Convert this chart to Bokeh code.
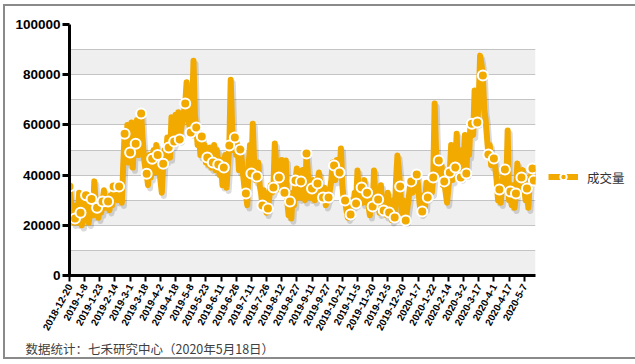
from bokeh.plotting import figure
from bokeh.models import (Range1d, FixedTicker, SingleIntervalTicker, NumeralTickFormatter,
                          Legend, LegendItem, Title, ColumnDataSource)
from bokeh.transform import dodge
from bokeh.embed import file_html
from bokeh.resources import INLINE

# daily trading volume (trading days from 2018-12-20 to 2020-5-18)
volume = [
    35500, 30000, 24000, 21000, 22700, 28000, 21000, 33000, 25000, 20000, 31000, 22000,
    32000, 28000, 21000, 26000, 30500, 24000, 37500, 29000, 27000, 23000, 30000, 25000,
    29500, 34000, 27000, 31000, 29500, 26000, 32000, 28000, 35500, 31000, 36000, 30000,
    35500, 33000, 29000, 44000, 56500, 48000, 60000, 45000, 49000, 61000, 43000, 58000,
    52500, 62000, 48000, 60000, 64500, 55000, 47000, 43000, 40500, 36000, 48000, 39000,
    46500, 50000, 41000, 52000, 48000, 44000, 38000, 33000, 44500, 50000, 46000, 55000,
    51000, 47000, 63000, 52000, 53400, 64000, 55000, 65000, 54200, 58000, 62000, 65000,
    68500, 77000, 62000, 60000, 57000, 66000, 85600, 64000, 59000, 52000, 57000, 48000,
    55400, 50000, 52000, 45000, 47000, 44000, 51000, 43000, 45000, 52000, 42000, 50000,
    44200, 40000, 46000, 36000, 43000, 48000, 35000, 44000, 51800, 78000, 60000, 50000,
    55000, 48000, 52000, 42000, 50200, 46000, 40000, 35000, 32700, 28000, 44000, 52000,
    40600, 60500, 45000, 38000, 39400, 45000, 36000, 33000, 27900, 34000, 30000, 25000,
    26700, 31000, 36000, 33000, 35100, 52600, 44000, 38000, 39000, 34000, 46000, 37000,
    33000, 45800, 30000, 24000, 29500, 22700, 33000, 28000, 37800, 42600, 35000, 31000,
    37500, 42000, 35000, 30000, 48600, 41000, 37000, 31000, 34700, 38000, 30000, 36000,
    36700, 41000, 37000, 33000, 31100, 35000, 28000, 30000, 31100, 34000, 38000, 45000,
    43800, 38000, 46000, 40000, 41000, 50600, 36000, 30000, 29900, 26000, 23000, 27000,
    24300, 30000, 28000, 33000, 28700, 41800, 32000, 30000, 35100, 29000, 38000, 30000,
    33000, 28000, 24000, 32000, 27500, 41800, 31000, 34000, 30300, 25000, 36000, 28000,
    25900, 30000, 24000, 33000, 25100, 28000, 22000, 30000, 23100, 38000, 47800, 42000,
    35500, 25000, 30000, 22000, 21900, 26000, 30000, 35000, 37500, 33000, 37000, 34000,
    40200, 36000, 29000, 25000, 25500, 32000, 27000, 37000, 31100, 34000, 36000, 33000,
    39000, 68500, 50000, 42000, 45800, 41000, 44000, 36000, 37500, 33000, 29000, 35000,
    41000, 52000, 38000, 45000, 43000, 56500, 40000, 46000, 39000, 50000, 44000, 56000,
    40600, 55000, 48000, 60000, 60500, 56000, 73700, 66000, 61000, 70000, 87600, 84000,
    79700, 66000, 62000, 55000, 48200, 52000, 44000, 47000, 46600, 43000, 38000, 30000,
    34300, 29000, 37000, 40000, 42200, 36000, 57800, 30000, 33500, 28000, 36000, 27000,
    32700, 44600, 38000, 35000, 39000, 42000, 35000, 30000, 34700, 27000, 37000, 40000,
    42600, 37800,
]

tick_labels = [
    "2018-12-20", "2019-1-8", "2019-1-23", "2019-2-14", "2019-3-1", "2019-3-18",
    "2019-4-2", "2019-4-18", "2019-5-8", "2019-5-23", "2019-6-11", "2019-6-26",
    "2019-7-11", "2019-7-26", "2019-8-12", "2019-8-27", "2019-9-11", "2019-9-27",
    "2019-10-21", "2019-11-5", "2019-11-20", "2019-12-5", "2019-12-20", "2020-1-7",
    "2020-1-22", "2020-2-14", "2020-3-2", "2020-3-17", "2020-4-1", "2020-4-17", "2020-5-7",
]
tick_step = 11
marker_step = 4
grid_step = 10000
series_name = "成交量"
footer = "数据统计：七禾研究中心（2020年5月18日）"

ORANGE = "#F2A900"

idx = list(range(len(volume)))
src = ColumnDataSource(dict(x=idx, y=volume))
mk = [i for i in idx if i % marker_step == 0] + [idx[-1]]
msrc = ColumnDataSource(dict(x=mk, y=[volume[i] for i in mk]))

p = figure(frame_width=466, frame_height=251, output_backend="svg", toolbar_location=None,
           x_range=Range1d(0, 338.2), y_range=Range1d(0, 100000),
           min_border_left=64, min_border_right=94, min_border_top=18, min_border_bottom=80)
p.styles = {"margin-left": "3px", "margin-top": "4px", "border": "2px solid #8a8a8a"}
p.outline_line_color = None
p.background_fill_color = "white"

# grid with alternating bands (grey band starting at 0); the repeated 0 shifts the band parity
p.xgrid.visible = False
p.ygrid.ticker = FixedTicker(ticks=[0] + [k * grid_step for k in range(0, 11)])
p.ygrid.grid_line_color = "#c4c4c4"
p.ygrid.grid_line_width = 1
p.ygrid.band_fill_color = "#efefef"
p.ygrid.band_fill_alpha = 1

# shadow + line + markers
p.line(x=dodge("x", 1.5), y=dodge("y", -1300), source=src, line_color="#000000",
       line_alpha=0.14, line_width=6, line_join="round")
line_r = p.line(x="x", y="y", source=src, line_color=ORANGE, line_width=6, line_join="round")
sc_r = p.scatter(x="x", y="y", source=msrc, size=10, fill_color=ORANGE,
                 line_color="white", line_width=2)

# axes
p.yaxis.ticker = SingleIntervalTicker(interval=20000)
p.yaxis.formatter = NumeralTickFormatter(format="0")
p.xaxis.ticker = FixedTicker(ticks=[k * tick_step for k in range(len(tick_labels))])
p.xaxis.major_label_overrides = {k * tick_step: lab for k, lab in enumerate(tick_labels)}
p.xaxis.major_label_orientation = 1.07
for ax in (p.xaxis, p.yaxis):
    ax.axis_line_width = 3
    ax.axis_line_color = "black"
    ax.major_tick_line_color = "black"
    ax.major_tick_in = 0
    ax.minor_tick_line_color = None
    ax.major_label_text_font = "Liberation Sans"
    ax.major_label_text_font_style = "bold"
    ax.major_label_text_color = "black"
p.yaxis.major_tick_line_width = 3
p.yaxis.major_tick_out = 7
p.yaxis.major_label_text_font_size = "13.5px"
p.yaxis.major_label_standoff = 2
p.xaxis.major_tick_line_width = 2
p.xaxis.major_tick_out = 6
p.xaxis.major_label_text_font_size = "10px"
p.xaxis.major_label_standoff = 3

# blank legend title pushes the single entry down to where the reference shows it
legend = Legend(items=[LegendItem(label=series_name, renderers=[line_r, sc_r])],
                location="center_left", border_line_color=None, background_fill_alpha=0,
                glyph_width=30, glyph_height=16, padding=0, margin=13, label_standoff=9,
                title=" ", title_text_font_size="12px", title_standoff=40,
                label_text_font="Noto Sans CJK SC", label_text_font_size="12.5px",
                label_text_color="#333333")
p.add_layout(legend, "right")

p.add_layout(Title(text=footer, align="left", offset=-44, standoff=0,
                   text_font="Noto Sans CJK SC", text_font_size="12.5px",
                   text_font_style="normal", text_color="#404040"), "below")

html = file_html(p, INLINE)
html = html.replace("<head>", "<head><style>html,body{margin:0 !important;padding:0 !important;overflow:hidden;}</style>", 1)
open("out.html", "w").write(html)
